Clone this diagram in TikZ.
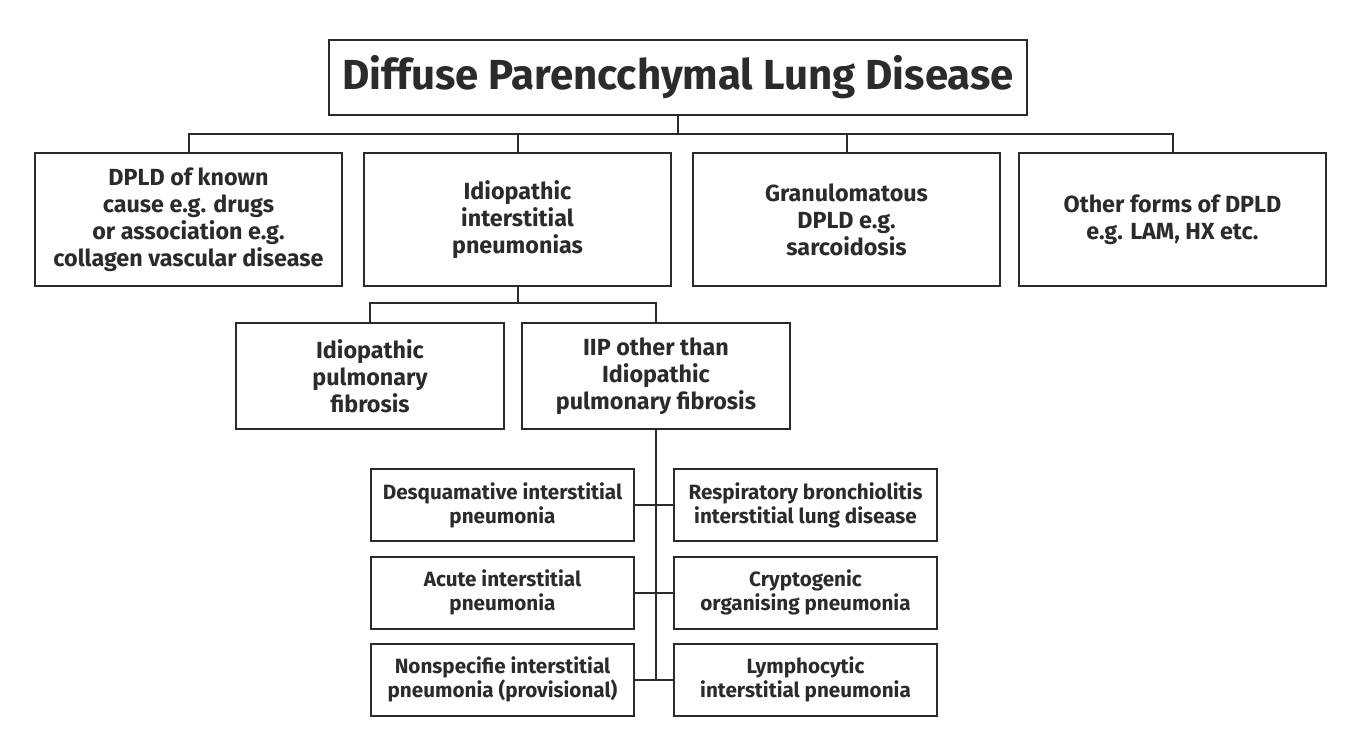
\documentclass[tikz,border=0pt]{standalone}
\usepackage{fontspec}
\setmainfont{Fira Sans}
\usepackage{tikz}
\usetikzlibrary{positioning,calc}
\definecolor{ink}{HTML}{2B2B2B}

\begin{document}
\begin{tikzpicture}[
    x=0.75pt, y=-0.75pt, line width=1.5pt,
    box/.style={draw=ink, align=center, text=ink, inner sep=2pt},
    head/.style={box, minimum width=523.5pt, minimum height=56.25pt, font=\bfseries\fontsize{31.5}{36}\selectfont},
    kind/.style={box, minimum width=230.25pt, minimum height=99.75pt, font=\bfseries\fontsize{17.5}{20.25}\selectfont},
    iip/.style={box, minimum width=201pt, minimum height=79.5pt, font=\bfseries\fontsize{17.5}{20.25}\selectfont},
    sub/.style={box, minimum width=197.25pt, minimum height=54pt, font=\bfseries\fontsize{15.5}{18}\selectfont},
    link/.style={draw=ink}
]
\useasboundingbox (0,0) rectangle (1345,743);

% top level
\node[head] (dpld) at (678,77.5) {Diffuse Parencchymal Lung Disease};

% four kinds of DPLD
\node[kind] (known) at (188.5,219.5) {DPLD of known\\cause e.g. drugs\\or association e.g.\\collagen vascular disease};
\node[kind] (idio) at (517.5,219.5) {Idiopathic\\interstitial\\pneumonias};
\node[kind] (granu) at (846.5,219.5) {Granulomatous\\DPLD e.g.\\sarcoidosis};
\node[kind] (other) at (1172.5,219.5) {Other forms of DPLD\\e.g. LAM, HX etc.};

% idiopathic interstitial pneumonias
\node[iip] (ipf) at (370,376) {Idiopathic\\pulmonary\\fibrosis};
\node[iip] (nonipf) at (656,376) {IIP other than\\Idiopathic\\pulmonary fibrosis};

% IIP other than IPF
\node[sub] (dip) at (502.5,505) {Desquamative interstitial\\pneumonia};
\node[sub] (rbild) at (805.5,505) {Respiratory bronchiolitis\\interstitial lung disease};
\node[sub] (aip) at (502.5,592.5) {Acute interstitial\\pneumonia};
\node[sub] (cop) at (805.5,592.5) {Cryptogenic\\organising pneumonia};
\node[sub] (nsip) at (502.5,679.5) {Nonspecifie interstitial\\pneumonia (provisional)};
\node[sub] (lip) at (805.5,679.5) {Lymphocytic\\interstitial pneumonia};

% connectors
\draw[link] (dpld.south) -- ++(0,18) coordinate (bus1);
\foreach \n in {known,idio,granu,other}
    \draw[link] (\n.north) |- (bus1);
\draw[link] (idio.south) -- ++(0,16) coordinate (bus2);
\foreach \n in {ipf,nonipf}
    \draw[link] (\n.north) |- (bus2);
\draw[link] (nonipf.south) -- (nonipf.south |- nsip.east);
\draw[link] (dip.east) -- (rbild.west);
\draw[link] (aip.east) -- (cop.west);
\draw[link] (nsip.east) -- (lip.west);
\end{tikzpicture}
\end{document}
